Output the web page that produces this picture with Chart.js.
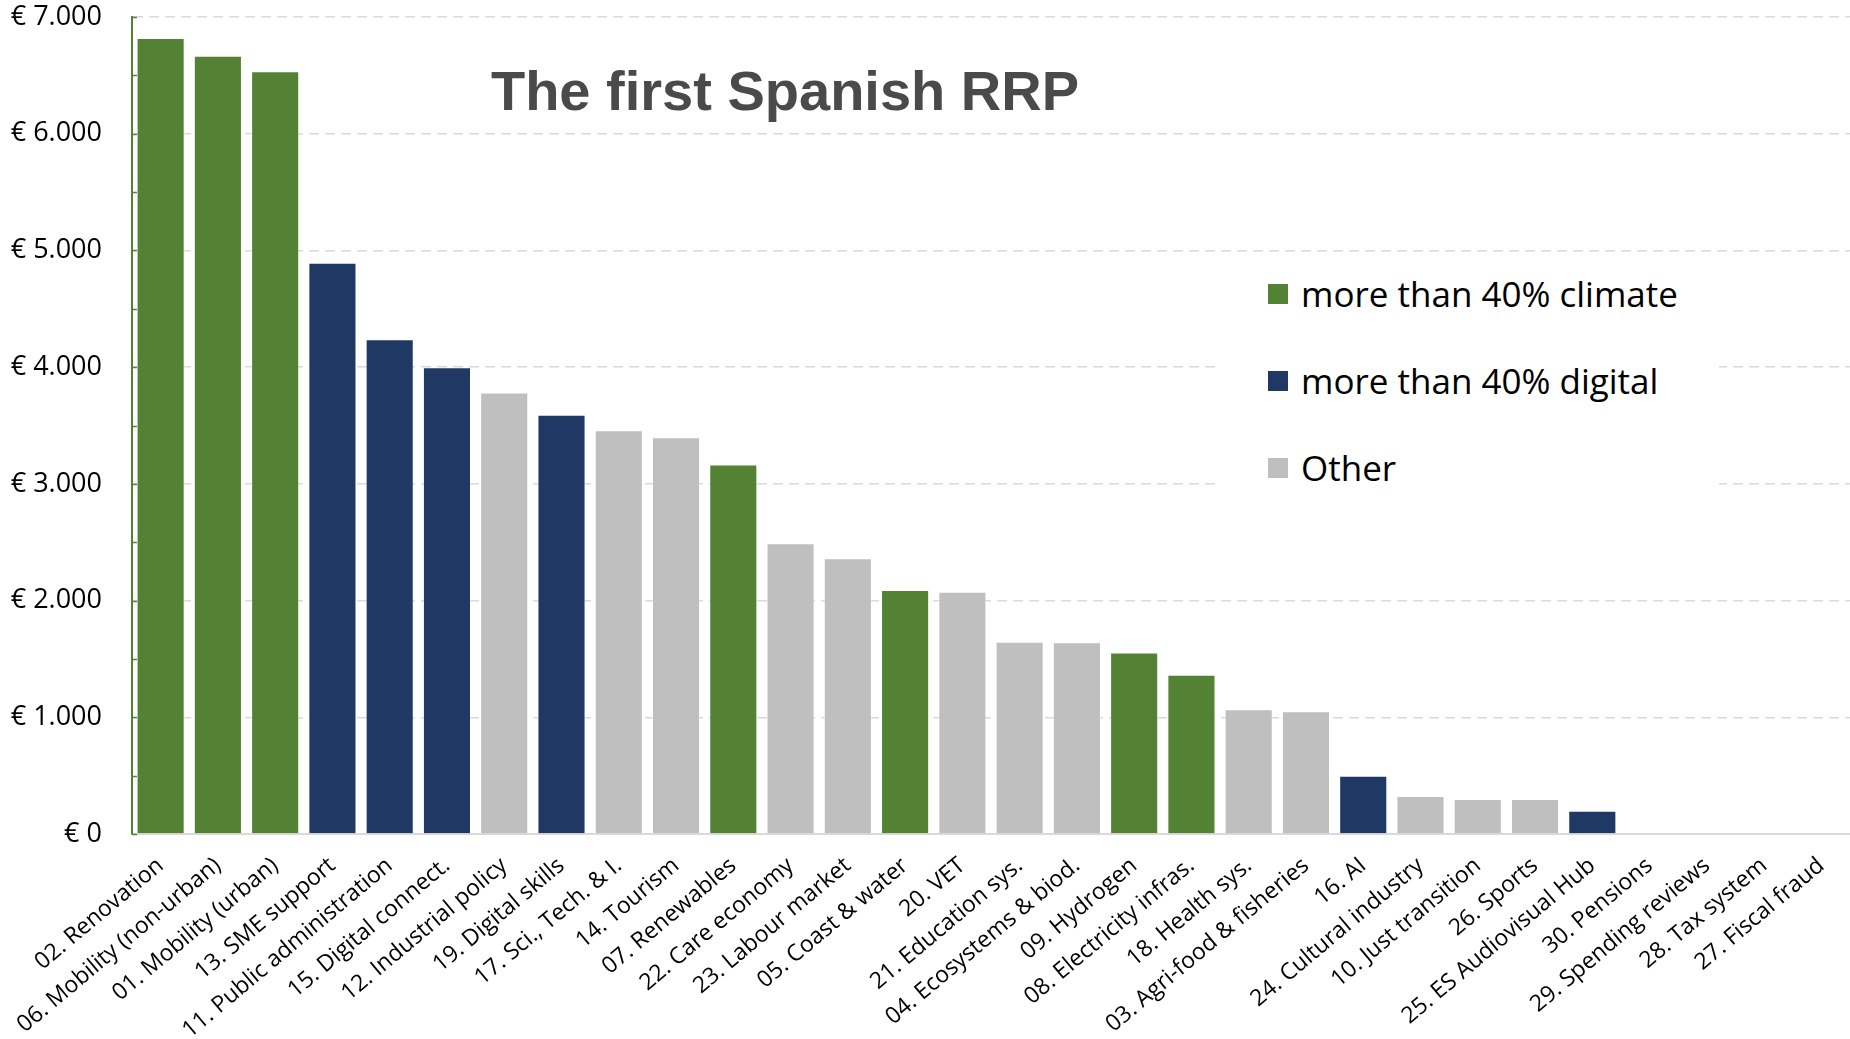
<!DOCTYPE html>
<html>
<head>
<meta charset="utf-8">
<title>The first Spanish RRP</title>
<script src="https://cdn.jsdelivr.net/npm/chart.js@4.4.0/dist/chart.umd.min.js"></script>
<style>
  html, body { margin: 0; padding: 0; background: #fff; }
  #wrap { position: relative; width: 1850px; height: 1039px; }
  #title {
    position: absolute; left: 385px; top: 63px; width: 800px;
    text-align: center; font: bold 56px "Liberation Sans", Arial, sans-serif;
    line-height: 56px; color: #4a4a4a;
  }
  #legend {
    position: absolute; left: 1221px; top: 262px; width: 498px; height: 290px;
    background: #fff;
  }
  #legend .row {
    position: absolute; left: 47px; height: 40px;
    display: flex; align-items: center;
    font: 35px "Open Sans", sans-serif; line-height: 40px; color: #000;
    white-space: nowrap;
  }
  #legend .box { width: 20px; height: 20px; margin-right: 13px; }
</style>
</head>
<body>
<div id="wrap">
  <canvas id="rrpChart"></canvas>
  <div id="title">The first Spanish RRP</div>
  <div id="legend"></div>
</div>
<script>
// components, sorted by allocation (EUR million)
const categories = [
  "02. Renovation", "06. Mobility (non-urban)", "01. Mobility (urban)", "13. SME support",
  "11. Public administration", "15. Digital connect.", "12. Industrial policy", "19. Digital skills",
  "17. Sci., Tech. & I.", "14. Tourism", "07. Renewables", "22. Care economy",
  "23. Labour market", "05. Coast & water", "20. VET", "21. Education sys.",
  "04. Ecosystems & biod.", "09. Hydrogen", "08. Electricity infras.", "18. Health sys.",
  "03. Agri-food & fisheries", "16. AI", "24. Cultural industry", "10. Just transition",
  "26. Sports", "25. ES Audiovisual Hub", "30. Pensions", "29. Spending reviews",
  "28. Tax system", "27. Fiscal fraud"
];
const values = [
  6820, 6667, 6536, 4894, 4239, 3999, 3782, 3593, 3460, 3400,
  3165, 2492, 2363, 2091, 2076, 1648, 1642, 1555, 1365, 1069,
  1051, 500, 325, 300, 300, 200, 0, 0, 0, 0
];
// 0 = climate, 1 = digital, 2 = other
const groups = [
  0, 0, 0, 1, 1, 1, 2, 1, 2, 2,
  0, 2, 2, 0, 2, 2, 2, 0, 0, 2,
  2, 1, 2, 2, 2, 1, 2, 2, 2, 2
];
const seriesNames = ["more than 40% climate", "more than 40% digital", "Other"];
const seriesColors = ["#548235", "#203864", "#bfbfbf"];
const yTicks = [0, 1000, 2000, 3000, 4000, 5000, 6000, 7000];

function euro(v) {
  return "€ " + String(v).replace(/\B(?=(\d{3})+(?!\d))/g, ".");
}

const datasets = seriesNames.map(function (name, s) {
  return {
    label: name,
    data: values.map(function (v, i) { return groups[i] === s ? v : null; }),
    backgroundColor: seriesColors[s],
    borderColor: "rgba(255,255,255,0.35)",
    borderWidth: 1,
    barPercentage: 0.84,
    categoryPercentage: 1.0
  };
});

// small inside tick marks on the value axis
const innerTicks = {
  id: "innerTicks",
  beforeDatasetsDraw(chart) {
    const y = chart.scales.y;
    const ctx = chart.ctx;
    ctx.save();
    ctx.strokeStyle = "#548235";
    ctx.lineWidth = 1.5;
    for (let v = 0; v <= yTicks[yTicks.length - 1]; v += 500) {
      const py = Math.round(y.getPixelForValue(v)) + 0.5;
      ctx.beginPath();
      ctx.moveTo(y.right, py);
      ctx.lineTo(y.right + 5, py);
      ctx.stroke();
    }
    ctx.restore();
  }
};

const chart = new Chart(document.getElementById("rrpChart"), {
  type: "bar",
  data: { labels: categories, datasets: datasets },
  options: {
    responsive: true,
    maintainAspectRatio: false,
    animation: false,
    layout: { padding: { top: 17, right: 0, bottom: 0, left: 0 } },
    plugins: {
      legend: { display: false },
      tooltip: { enabled: false }
    },
    scales: {
      x: {
        stacked: true,
        grid: { display: false, drawTicks: false },
        border: { display: true, color: "#d9d9d9", width: 2 },
        ticks: {
          autoSkip: false,
          minRotation: 40,
          maxRotation: 40,
          padding: 18,
          color: "#000",
          font: { family: "'Open Sans', sans-serif", size: 23 }
        },
        afterFit(scale) {
          scale.height = 205;
          scale.paddingRight = 0;
        }
      },
      y: {
        stacked: true,
        min: 0,
        max: 7000,
        afterBuildTicks(scale) {
          scale.ticks = yTicks.map(function (v) { return { value: v }; });
        },
        grid: {
          drawTicks: true,
          tickLength: 30,
          tickColor: "rgba(0,0,0,0)",
          color: function (c) { return c.tick && c.tick.value === 0 ? "rgba(0,0,0,0)" : "#d9d9d9"; },
          lineWidth: 1.5
        },
        border: { display: true, color: "#548235", width: 2, dash: [10, 6] },
        ticks: {
          padding: 0,
          color: "#000",
          font: { family: "'Open Sans', sans-serif", size: 27 },
          callback: function (v) { return euro(v); }
        },
        afterFit(scale) { scale.width = 132; }
      }
    }
  },
  plugins: [innerTicks]
});

// legend built from the chart's datasets
const legendEl = document.getElementById("legend");
const rowTops = [12, 99, 186];
chart.data.datasets.forEach(function (ds, i) {
  const row = document.createElement("div");
  row.className = "row";
  row.style.top = rowTops[i] + "px";
  const box = document.createElement("span");
  box.className = "box";
  box.style.background = ds.backgroundColor;
  const txt = document.createElement("span");
  txt.textContent = ds.label;
  row.appendChild(box);
  row.appendChild(txt);
  legendEl.appendChild(row);
});
</script>
</body>
</html>
